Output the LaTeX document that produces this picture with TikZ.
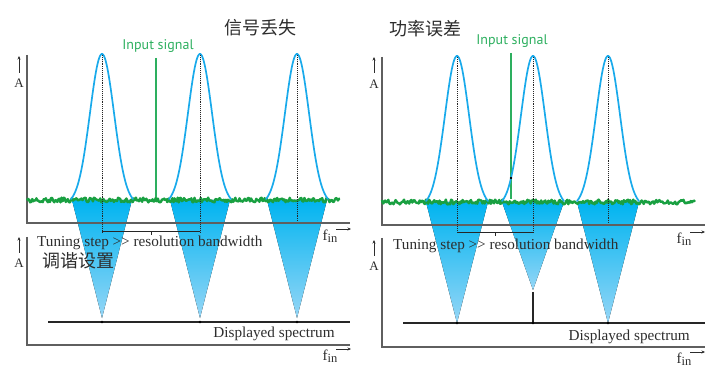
\documentclass[tikz,border=0pt]{standalone}
\usepackage{fontspec}
\setmainfont{Liberation Serif}
\newfontfamily\cjkfont{Noto Sans CJK SC}
\newfontfamily\labelfont{PT Sans}
\usetikzlibrary{arrows.meta}
\definecolor{peakblue}{RGB}{25,170,235}
\definecolor{conetop}{RGB}{0,180,240}
\definecolor{conebot}{RGB}{150,214,246}
\definecolor{noisegreen}{RGB}{25,160,65}
\definecolor{siggreen}{RGB}{45,175,95}
\definecolor{axisgray}{RGB}{95,95,95}
\definecolor{textgray}{RGB}{45,45,45}
\tikzset{
  axis/.style   ={line width=1.4pt, axisgray},
  peak/.style   ={line width=1.7pt, peakblue, line cap=round},
  noise/.style  ={line width=2.4pt, noisegreen, line join=round},
  sigline/.style={line width=1.4pt, siggreen},
  centre/.style ={densely dotted, line width=0.9pt, black!85},
  bracket/.style={line width=1pt, black!85},
  base/.style   ={line width=1.2pt, black!85},
  cone/.style   ={top color=conetop, bottom color=conebot, draw=none},
  siglabel/.style={font=\labelfont\fontsize{14}{16}\selectfont, siggreen},
  caption/.style={font=\fontsize{15.2}{17}\selectfont, textgray, inner sep=0pt},
  title/.style  ={font=\cjkfont\fontsize{18}{20}\selectfont, textgray, inner sep=0pt},
  amp/.style    ={font=\fontsize{13}{15}\selectfont, textgray, inner sep=0pt},
  freq/.style   ={font=\fontsize{15}{17}\selectfont, textgray, inner sep=0pt},
  axarrow/.style={-{Stealth[length=3.5pt,width=3pt]}, line width=0.6pt, textgray},
}
% peak, centre #1, base #2
\newcommand{\peakat}[2]{%
  \draw[peak] plot[domain=-31:31, samples=80]
    ({#1+\x}, {#2-150.5*(exp(-\x*\x/290)-0.0364)});}
\newcommand{\fin}{f\raisebox{-0.35ex}{\fontsize{12.5}{13}\selectfont in}}

\begin{document}
\begin{tikzpicture}[x=1pt,y=-1pt]
\useasboundingbox (0,0) rectangle (720,371);
\pgfmathsetseed{7}

%% left: signal loss
\foreach \c in {102,200,297}
  \fill[cone] (\c-30,200) -- (\c+30,200) -- (\c,318) -- cycle;
\draw[axis] (27,55) -- (27,223) -- (350,223);
\draw[axis] (27,237) -- (27,345) -- (350,345);
\draw[noise] plot[domain=27:340, samples=300] (\x, {200+2.4*rand});
\coordinate (Ltop) at (156,58);
\coordinate (Lbot) at (156,197);
\draw[sigline] (Ltop) -- (Lbot);
\foreach \c in {102,200,297} \peakat{\c}{199}
\foreach \c/\e in {102/232,200/232,297/222}
  \draw[centre] (\c,55) -- (\c,\e);
\draw[bracket] (102,232) -- (200,232) (151,232) -- (151,235.5);
\draw[base] (48,322) -- (350,322);
\foreach \c in {102,200,297} \fill (\c,322) circle (1.3pt);

\node[title] (lossT) at (260,28) {信号丢失};
\node[siglabel] (lossS) at (158,46) {Input signal};
\node[caption, anchor=west] (lossC) at (37,243) {Tuning step {>}{>} resolution bandwidth};
\node[title, anchor=west] (lossK) at (42,261) {调谐设置};
\node[caption] (lossD) at (274,334) {Displayed spectrum};
\node[amp] (lossA1) at (19,83) {A};
\node[amp] (lossA2) at (19,263) {A};
\draw[axarrow] (19,73) -- (19,56);
\draw[axarrow] (19,253) -- (19,237);
\node[freq] (lossF1) at (330,236) {\fin};
\node[freq] (lossF2) at (330,356) {\fin};
\draw[axarrow] (336,229) -- (351,229);
\draw[axarrow] (336,349) -- (351,349);

%% right: power error
\foreach \c/\a in {457/323,533/290,608/323}
  \fill[cone] (\c-31,202) -- (\c+31,202) -- (\c,\a) -- cycle;
\draw[axis] (382,57) -- (382,225) -- (705,225);
\draw[axis] (382,238) -- (382,347) -- (705,347);
\draw[noise] plot[domain=382:695, samples=300] (\x, {202+2.4*rand});
\coordinate (Rtop) at (511,53);
\coordinate (Rbot) at (511,199);
\draw[sigline] (Rtop) -- (Rbot);
\foreach \c in {457,533,608} \peakat{\c}{201}
\fill (511,178) circle (1.2pt);
\foreach \c/\e in {457/233,533/233,608/223}
  \draw[centre] (\c,57) -- (\c,\e);
\draw[bracket] (457,233) -- (533,233) (495,233) -- (495,236.5);
\draw[base] (403,323) -- (705,323);
\coordinate (Rlvl) at (533,292);
\coordinate (Rfoot) at (533,323);
\draw[base] (Rlvl) -- (Rfoot);
\foreach \c in {457,533,608} \fill (\c,323) circle (1.3pt);

\node[title] (errT) at (425,29) {功率误差};
\node[siglabel] (errS) at (512,41) {Input signal};
\node[caption, anchor=west] (errC) at (393,246) {Tuning step {>}{>} resolution bandwidth};
\node[caption, anchor=east] (errD) at (690,337) {Displayed spectrum};
\node[amp] (errA1) at (374,84) {A};
\node[amp] (errA2) at (374,266) {A};
\draw[axarrow] (374,73) -- (374,57);
\draw[axarrow] (374,256) -- (374,240);
\node[freq] (errF1) at (684,239) {\fin};
\node[freq] (errF2) at (684,359) {\fin};
\draw[axarrow] (690,232) -- (705,232);
\draw[axarrow] (690,352) -- (705,352);
\end{tikzpicture}
\end{document}
